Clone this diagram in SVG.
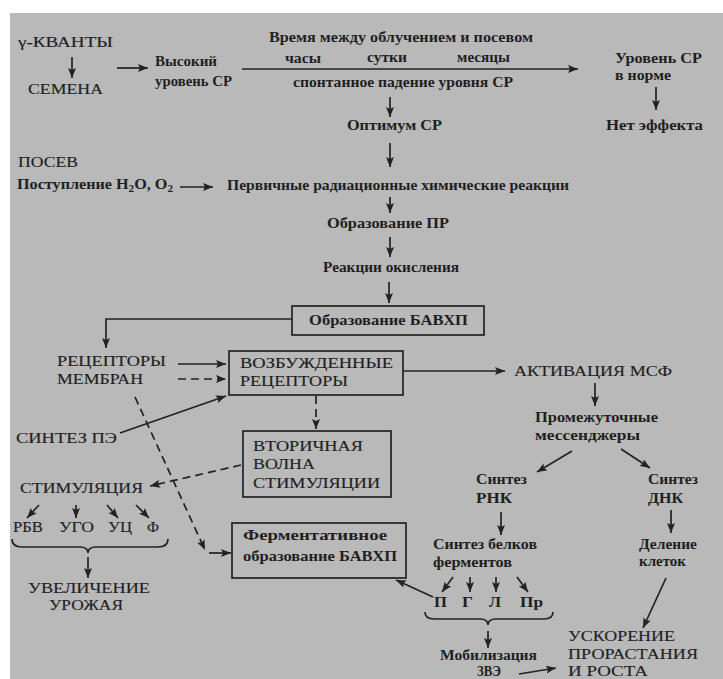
<svg xmlns="http://www.w3.org/2000/svg" width="723" height="679" viewBox="0 0 723 679">
<style>
text{font-family:"Liberation Serif","Times New Roman",serif;fill:#1f1f1f}
.u{font-size:15.5px;stroke:#1f1f1f;stroke-width:0.15}
.l{font-size:14.5px;font-weight:bold}
.ln{fill:none;stroke:#222;stroke-width:1.7}
.ar{fill:none;stroke:#222;stroke-width:1.7;marker-end:url(#ah)}
.da{fill:none;stroke:#222;stroke-width:1.7;stroke-dasharray:8 5;marker-end:url(#ah)}
.box{fill:none;stroke:#222;stroke-width:1.7}
</style>
<defs>
<marker id="ah" markerUnits="userSpaceOnUse" markerWidth="11" markerHeight="8" refX="10" refY="4" orient="auto">
<path d="M0,0 L10,4 L0,8 L2,4 z" fill="#222"/>
</marker>
</defs>
<rect x="0" y="0" width="723" height="679" fill="#ffffff"/>
<rect x="10" y="13" width="713" height="666" fill="#b9b9b9"/>

<g id="connectors">
<line class="ar" x1="72" y1="57" x2="72" y2="78"/>
<line class="ar" x1="117" y1="68" x2="148" y2="68"/>
<line class="ar" x1="242" y1="69" x2="578" y2="69"/>
<line class="ar" x1="656" y1="87" x2="656" y2="110"/>
<line class="ar" x1="390" y1="97" x2="390" y2="117"/>
<line class="ar" x1="390" y1="143" x2="390" y2="167"/>
<line class="ar" x1="180" y1="187" x2="213" y2="187"/>
<line class="ar" x1="390" y1="197" x2="390" y2="213"/>
<line class="ar" x1="390" y1="237" x2="390" y2="257"/>
<line class="ar" x1="389" y1="282" x2="389" y2="303"/>
<polyline class="ar" points="292,319 106,319 106,348"/>
<line class="ar" x1="178" y1="364" x2="226" y2="364"/>
<line class="da" x1="178" y1="379" x2="226" y2="379"/>
<line class="ar" x1="120" y1="433" x2="226" y2="396"/>
<line class="ar" x1="403" y1="371" x2="505" y2="371"/>
<line class="ar" x1="595" y1="383" x2="595" y2="406"/>
<line class="ar" x1="572" y1="451" x2="537" y2="472"/>
<line class="ar" x1="621" y1="449" x2="650" y2="468"/>
<line class="da" x1="316" y1="396" x2="316" y2="429"/>
<line class="da" x1="241" y1="465" x2="150" y2="486"/>
<line class="da" x1="135" y1="397" x2="205" y2="550"/>
<line class="ar" x1="209" y1="553" x2="231" y2="553"/>
<line class="ar" x1="39" y1="505" x2="27" y2="518"/>
<line class="ar" x1="76" y1="505" x2="76" y2="518"/>
<line class="ar" x1="107" y1="505" x2="118" y2="518"/>
<line class="ar" x1="136" y1="505" x2="149" y2="518"/>
<path class="ln" d="M12,539 Q12,547 22,547 L80,547 Q88,547 88,553 Q88,547 96,547 L158,547 Q168,547 168,539"/>
<line class="ar" x1="88" y1="557" x2="88" y2="578"/>
<line class="ar" x1="501" y1="512" x2="501" y2="535"/>
<line class="ar" x1="671" y1="510" x2="671" y2="533"/>
<line class="ar" x1="453" y1="577" x2="442" y2="592"/>
<line class="ar" x1="470" y1="577" x2="470" y2="592"/>
<line class="ar" x1="496" y1="577" x2="496" y2="592"/>
<line class="ar" x1="517" y1="577" x2="528" y2="592"/>
<line class="ar" x1="433" y1="597" x2="396" y2="580"/>
<path class="ln" d="M425,612 Q425,619 434,619 L480,619 Q488,619 488,625 Q488,619 496,619 L544,619 Q553,619 553,612"/>
<line class="ar" x1="488" y1="631" x2="488" y2="648"/>
<line class="ar" x1="519" y1="674" x2="556" y2="668"/>
<line class="ar" x1="666" y1="578" x2="643" y2="628"/>
</g>

<g id="n-kvanty"><text class="u" x="18" y="47" textLength="95" lengthAdjust="spacingAndGlyphs">γ-КВАНТЫ</text></g>
<g id="n-semena"><text class="u" x="28" y="94" textLength="75" lengthAdjust="spacingAndGlyphs">СЕМЕНА</text></g>
<g id="n-vysokiy">
<text class="l" x="155" y="66" textLength="62" lengthAdjust="spacingAndGlyphs">Высокий</text>
<text class="l" x="155" y="86" textLength="77" lengthAdjust="spacingAndGlyphs">уровень СР</text>
</g>
<g id="n-vremya">
<text class="l" x="269" y="42" textLength="264" lengthAdjust="spacingAndGlyphs">Время между облучением и посевом</text>
<text class="l" x="285" y="63" textLength="36" lengthAdjust="spacingAndGlyphs">часы</text>
<text class="l" x="367" y="62" textLength="40" lengthAdjust="spacingAndGlyphs">сутки</text>
<text class="l" x="457" y="62" textLength="53" lengthAdjust="spacingAndGlyphs">месяцы</text>
<text class="l" x="293" y="87" textLength="220" lengthAdjust="spacingAndGlyphs">спонтанное падение уровня СР</text>
</g>
<g id="n-uroven-norma">
<text class="l" x="615" y="63" textLength="87" lengthAdjust="spacingAndGlyphs">Уровень СР</text>
<text class="l" x="615" y="80" textLength="56" lengthAdjust="spacingAndGlyphs">в норме</text>
</g>
<g id="n-net-effekta"><text class="l" x="606" y="130" textLength="97" lengthAdjust="spacingAndGlyphs">Нет эффекта</text></g>
<g id="n-optimum"><text class="l" x="347" y="130" textLength="95" lengthAdjust="spacingAndGlyphs">Оптимум СР</text></g>
<g id="n-posev"><text class="u" x="18" y="167" textLength="60" lengthAdjust="spacingAndGlyphs">ПОСЕВ</text></g>
<g id="n-postuplenie"><text class="l" x="17" y="189" textLength="156" lengthAdjust="spacingAndGlyphs">Поступление H<tspan font-size="10" dy="3">2</tspan><tspan dy="-3">O, O</tspan><tspan font-size="10" dy="3">2</tspan></text></g>
<g id="n-pervichnye"><text class="l" x="227" y="190" textLength="342" lengthAdjust="spacingAndGlyphs">Первичные радиационные химические реакции</text></g>
<g id="n-obrazovanie-pr"><text class="l" x="327" y="228" textLength="122" lengthAdjust="spacingAndGlyphs">Образование ПР</text></g>
<g id="n-reakcii"><text class="l" x="323" y="272" textLength="136" lengthAdjust="spacingAndGlyphs">Реакции окисления</text></g>
<g id="n-bavhp">
<rect class="box" x="292" y="306" width="192" height="29"/>
<text class="l" x="309" y="325" textLength="159" lengthAdjust="spacingAndGlyphs">Образование БАВХП</text>
</g>
<g id="n-receptory-membran">
<text class="u" x="57" y="366" textLength="109" lengthAdjust="spacingAndGlyphs">РЕЦЕПТОРЫ</text>
<text class="u" x="57" y="384" textLength="86" lengthAdjust="spacingAndGlyphs">МЕМБРАН</text>
</g>
<g id="n-vozbuzhdennye">
<rect class="box" x="229" y="351" width="174" height="44"/>
<text class="u" x="240" y="368" textLength="153" lengthAdjust="spacingAndGlyphs">ВОЗБУЖДЕННЫЕ</text>
<text class="u" x="240" y="386" textLength="108" lengthAdjust="spacingAndGlyphs">РЕЦЕПТОРЫ</text>
</g>
<g id="n-aktivaciya"><text class="u" x="514" y="376" textLength="158" lengthAdjust="spacingAndGlyphs">АКТИВАЦИЯ МСФ</text></g>
<g id="n-messendzhery">
<text class="l" x="535" y="422" textLength="123" lengthAdjust="spacingAndGlyphs">Промежуточные</text>
<text class="l" x="535" y="440" textLength="105" lengthAdjust="spacingAndGlyphs">мессенджеры</text>
</g>
<g id="n-sintez-rnk">
<text class="l" x="476" y="484" textLength="51" lengthAdjust="spacingAndGlyphs">Синтез</text>
<text class="l" x="476" y="503" textLength="36" lengthAdjust="spacingAndGlyphs">РНК</text>
</g>
<g id="n-sintez-dnk">
<text class="l" x="648" y="484" textLength="50" lengthAdjust="spacingAndGlyphs">Синтез</text>
<text class="l" x="648" y="503" textLength="35" lengthAdjust="spacingAndGlyphs">ДНК</text>
</g>
<g id="n-sintez-pe"><text class="u" x="16" y="443" textLength="101" lengthAdjust="spacingAndGlyphs">СИНТЕЗ ПЭ</text></g>
<g id="n-vtorichnaya">
<rect class="box" x="243" y="431" width="148" height="66"/>
<text class="u" x="253" y="451" textLength="110" lengthAdjust="spacingAndGlyphs">ВТОРИЧНАЯ</text>
<text class="u" x="253" y="469" textLength="62" lengthAdjust="spacingAndGlyphs">ВОЛНА</text>
<text class="u" x="253" y="488" textLength="127" lengthAdjust="spacingAndGlyphs">СТИМУЛЯЦИИ</text>
</g>
<g id="n-stimulyaciya"><text class="u" x="20" y="493" textLength="123" lengthAdjust="spacingAndGlyphs">СТИМУЛЯЦИЯ</text></g>
<g id="n-stim-items">
<text class="u" x="13" y="532" textLength="30" lengthAdjust="spacingAndGlyphs">РБВ</text>
<text class="u" x="59" y="532" textLength="35" lengthAdjust="spacingAndGlyphs">УГО</text>
<text class="u" x="108" y="532" textLength="24" lengthAdjust="spacingAndGlyphs">УЦ</text>
<text class="u" x="147" y="532" textLength="12" lengthAdjust="spacingAndGlyphs">Ф</text>
</g>
<g id="n-urozhay">
<text class="u" x="28" y="593" textLength="122" lengthAdjust="spacingAndGlyphs">УВЕЛИЧЕНИЕ</text>
<text class="u" x="49" y="610" textLength="74" lengthAdjust="spacingAndGlyphs">УРОЖАЯ</text>
</g>
<g id="n-fermentativnoe">
<rect class="box" x="232" y="523" width="174" height="55"/>
<text class="l" x="243" y="540" textLength="144" lengthAdjust="spacingAndGlyphs">Ферментативное</text>
<text class="l" x="243" y="561" textLength="154" lengthAdjust="spacingAndGlyphs">образование БАВХП</text>
</g>
<g id="n-sintez-belkov">
<text class="l" x="433" y="549" textLength="104" lengthAdjust="spacingAndGlyphs">Синтез белков</text>
<text class="l" x="433" y="567" textLength="79" lengthAdjust="spacingAndGlyphs">ферментов</text>
</g>
<g id="n-belki-items">
<text class="l" x="434" y="607" textLength="13" lengthAdjust="spacingAndGlyphs">П</text>
<text class="l" x="462" y="607" textLength="11" lengthAdjust="spacingAndGlyphs">Г</text>
<text class="l" x="489" y="607" textLength="12" lengthAdjust="spacingAndGlyphs">Л</text>
<text class="l" x="520" y="607" textLength="23" lengthAdjust="spacingAndGlyphs">Пр</text>
</g>
<g id="n-mobilizaciya">
<text class="l" x="440" y="660" textLength="97" lengthAdjust="spacingAndGlyphs">Мобилизация</text>
<text class="l" x="477" y="676" textLength="24" lengthAdjust="spacingAndGlyphs">ЗВЭ</text>
</g>
<g id="n-delenie">
<text class="l" x="639" y="549" textLength="58" lengthAdjust="spacingAndGlyphs">Деление</text>
<text class="l" x="639" y="566" textLength="47" lengthAdjust="spacingAndGlyphs">клеток</text>
</g>
<g id="n-uskorenie">
<text class="u" x="568" y="641" textLength="107" lengthAdjust="spacingAndGlyphs">УСКОРЕНИЕ</text>
<text class="u" x="568" y="659" textLength="130" lengthAdjust="spacingAndGlyphs">ПРОРАСТАНИЯ</text>
<text class="u" x="568" y="676" textLength="80" lengthAdjust="spacingAndGlyphs">И РОСТА</text>
</g>
</svg>
